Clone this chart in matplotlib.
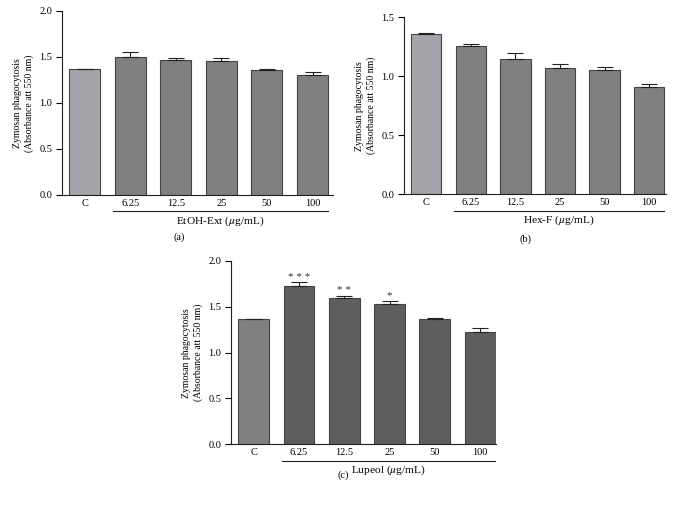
import matplotlib
matplotlib.use("Agg")
import matplotlib.pyplot as plt
import matplotlib.transforms as mtransforms

plt.rcParams['font.family'] = ['Liberation Serif', 'DejaVu Serif']
plt.rcParams['mathtext.fontset'] = 'stix'

# data
labels = ["C", "6.25", "12.5", "25", "50", "100"]

etoh_vals = [1.365, 1.497, 1.464, 1.453, 1.355, 1.304]
etoh_err = [0.005, 0.054, 0.022, 0.036, 0.015, 0.029]

hex_vals = [1.361, 1.254, 1.144, 1.073, 1.053, 0.907]
hex_err = [0.004, 0.017, 0.051, 0.034, 0.028, 0.030]

lup_vals = [1.364, 1.727, 1.593, 1.527, 1.367, 1.229]
lup_err = [0.004, 0.040, 0.029, 0.037, 0.008, 0.040]
lup_stars = ["", "* * *", "* *", "*", "", ""]

ylabel = "Zymosan phagocytosis\n(Absorbance att 550 nm)"

fig = plt.figure(figsize=(6.79, 5.13), dpi=100)


def panel(rect, vals, err, ymax, yticks, ctrl_color, bar_color, group, letter,
          letter_pos, xright, stars=None):
    ax = fig.add_axes(rect)
    x = range(len(vals))
    colors = [ctrl_color] + [bar_color] * (len(vals) - 1)
    ax.bar(x, vals, width=0.68, color=colors, edgecolor="#444444", linewidth=0.8, zorder=2)
    ax.errorbar(x, vals, yerr=[[0] * len(vals), err], fmt="none", ecolor="#222222",
                elinewidth=0.8, capsize=5.5, capthick=0.8, zorder=3)
    if stars:
        for i, s in enumerate(stars):
            if s:
                ax.text(i, vals[i] + err[i] + ymax * 0.003, s, ha="center", va="bottom",
                        fontsize=8, color="#333333")
    ax.set_xlim(-0.5, xright)
    ax.set_ylim(0, ymax)
    ax.set_yticks(yticks)
    ax.set_yticklabels(["%.1f" % t for t in yticks], fontsize=7.5)
    ax.set_xticks(list(x))
    ax.set_xticklabels(labels, fontsize=7.5)
    ax.tick_params(axis="x", length=0, pad=3)
    ax.tick_params(axis="y", length=4, width=0.8, pad=3)
    for s in ["top", "right"]:
        ax.spines[s].set_visible(False)
    for s in ["left", "bottom"]:
        ax.spines[s].set_linewidth(0.8)
        ax.spines[s].set_color("#222222")
    ax.set_ylabel(ylabel, fontsize=7, linespacing=1.25, labelpad=4)
    # underline below the dose labels, placed in pixels under the axis
    base = ax.get_xaxis_transform()
    line_tr = base + mtransforms.ScaledTranslation(0, -16.5 / 100, fig.dpi_scale_trans)
    ax.plot([0.63, 5.33], [0, 0], transform=line_tr, color="#222222", lw=0.8,
            clip_on=False)
    text_tr = base + mtransforms.ScaledTranslation(0, -26 / 100, fig.dpi_scale_trans)
    ax.text(2.97, 0, group, transform=text_tr, ha="center", va="center", fontsize=8.2)
    fig.text(letter_pos[0] / 679, 1 - letter_pos[1] / 513, letter, ha="center",
             va="center", fontsize=7.5)
    return ax


panel([62 / 679, 1 - 195 / 513, 271 / 679, 184 / 513], etoh_vals, etoh_err, 2.0,
      [0.0, 0.5, 1.0, 1.5, 2.0], "#a4a4aa", "#808080", r"EtOH-Ext ($\mu$g/mL)", "(a)",
      (179, 237), 5.45)
panel([404 / 679, 1 - 194.3 / 513, 262 / 679, 177 / 513], hex_vals, hex_err, 1.5,
      [0.0, 0.5, 1.0, 1.5], "#a4a4aa", "#808080", r"Hex-F ($\mu$g/mL)", "(b)",
      (525, 239), 5.38)
panel([231 / 679, 1 - 444.3 / 513, 265 / 679, 183.3 / 513], lup_vals, lup_err, 2.0,
      [0.0, 0.5, 1.0, 1.5, 2.0], "#808080", "#5e5e5e", r"Lupeol ($\mu$g/mL)", "(c)",
      (343, 475), 5.35, stars=lup_stars)

fig.savefig("out.png", dpi=100)
